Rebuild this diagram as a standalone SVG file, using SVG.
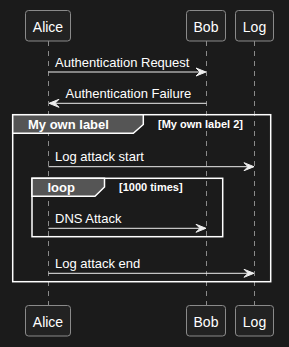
<svg xmlns="http://www.w3.org/2000/svg" width="289" height="347" viewBox="0 0 289 347">
<style>
.p rect{fill:#222222;stroke:#8a8a8a;stroke-width:1}
.p text{font-family:"Liberation Sans",Arial,sans-serif;font-size:14px;fill:#ffffff;text-anchor:middle}
.life{stroke:#8a8a8a;stroke-width:1;stroke-dasharray:5,5}
.msg{stroke:#eeeeee;stroke-width:1;fill:none}
.head{fill:#eeeeee;stroke:#eeeeee;stroke-width:1}
.mt{font-family:"Liberation Sans",Arial,sans-serif;font-size:13px;fill:#ffffff}
.frame{fill:none;stroke:#ffffff;stroke-width:1.5}
.tab{fill:#555555;stroke:#ffffff;stroke-width:1.5}
.gt{font-family:"Liberation Sans",Arial,sans-serif;font-size:13px;font-weight:bold;fill:#ffffff}
.gc{font-family:"Liberation Sans",Arial,sans-serif;font-size:11px;font-weight:bold;fill:#ffffff}
</style>
<rect x="0" y="0" width="289" height="347" fill="#1b1b1b"/>
<g id="lifelines">
<line class="life" x1="48.5" y1="41" x2="48.5" y2="305"/>
<line class="life" x1="206.5" y1="41" x2="206.5" y2="305"/>
<line class="life" x1="254.5" y1="41" x2="254.5" y2="305"/>
</g>
<g id="group-myownlabel">
<rect class="frame" x="12.7" y="114.7" width="258" height="167"/>
<polygon class="tab" points="12.7,114.7 143.3,114.7 143.3,124.5 133.3,133.3 12.7,133.3"/>
<text class="gt" x="28" y="128.5">My own label</text>
<text class="gc" x="158" y="128">[My own label 2]</text>
</g>
<g id="group-loop">
<rect class="frame" x="32" y="178.3" width="190.7" height="58.4"/>
<polygon class="tab" points="32,178.3 104.5,178.3 104.5,187 95,196.3 32,196.3"/>
<text class="gt" x="47.5" y="192">loop</text>
<text class="gc" x="119" y="190.5">[1000 times]</text>
</g>
<g id="connectors">
<line class="msg" x1="48.5" y1="72" x2="205" y2="72"/>
<polygon class="head" points="196,68 206,72 196,76 200,72"/>
<text class="mt" x="55" y="67">Authentication Request</text>
<line class="msg" x1="50" y1="103.3" x2="206.5" y2="103.3"/>
<polygon class="head" points="59,99.3 49,103.3 59,107.3 55,103.3"/>
<text class="mt" x="65.5" y="98.3">Authentication Failure</text>
<line class="msg" x1="48.5" y1="166.7" x2="253" y2="166.7"/>
<polygon class="head" points="244,162.7 254,166.7 244,170.7 248,166.7"/>
<text class="mt" x="55" y="160.5">Log attack start</text>
<line class="msg" x1="48.5" y1="228.3" x2="205" y2="228.3"/>
<polygon class="head" points="196,224.3 206,228.3 196,232.3 200,228.3"/>
<text class="mt" x="55" y="223">DNS Attack</text>
<line class="msg" x1="48.5" y1="273.3" x2="253" y2="273.3"/>
<polygon class="head" points="244,269.3 254,273.3 244,277.3 248,273.3"/>
<text class="mt" x="55" y="267.5">Log attack end</text>
</g>
<g id="alice-top" class="p"><rect x="25.5" y="10.5" width="45" height="30.5" rx="3"/><text x="48" y="31.5">Alice</text></g>
<g id="bob-top" class="p"><rect x="186.5" y="10.5" width="39" height="30.5" rx="3"/><text x="206" y="31.5">Bob</text></g>
<g id="log-top" class="p"><rect x="235.5" y="10.5" width="38" height="30.5" rx="3"/><text x="254.5" y="31.5">Log</text></g>
<g id="alice-bottom" class="p"><rect x="25.5" y="305.5" width="45" height="30.5" rx="3"/><text x="48" y="326.5">Alice</text></g>
<g id="bob-bottom" class="p"><rect x="186.5" y="305.5" width="39" height="30.5" rx="3"/><text x="206" y="326.5">Bob</text></g>
<g id="log-bottom" class="p"><rect x="235.5" y="305.5" width="38" height="30.5" rx="3"/><text x="254.5" y="326.5">Log</text></g>
</svg>
